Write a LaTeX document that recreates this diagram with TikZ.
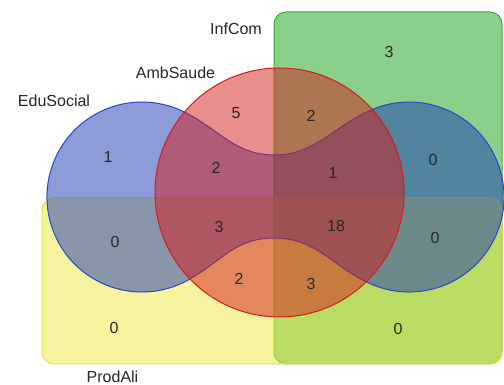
\documentclass[tikz,border=0pt]{standalone}
\usepackage{fontspec}
\setmainfont{Liberation Sans}
\begin{document}
\begin{tikzpicture}[x=1pt,y=1pt,
  lbl/.style={font=\fontsize{16}{18}\selectfont, text=black!85, inner sep=0pt},
  cnt/.style={font=\fontsize{16}{18}\selectfont, text=black!85, inner sep=0pt}]
\definecolor{cblue}{RGB}{30,56,180}
\definecolor{cbluel}{RGB}{40,70,200}
\definecolor{cred}{RGB}{212,28,28}
\definecolor{cgreen}{RGB}{22,162,22}
\definecolor{cgreenl}{RGB}{60,180,50}
\definecolor{cyellow}{RGB}{236,232,60}
\definecolor{cyellowl}{RGB}{230,226,70}
\useasboundingbox (0,0) rectangle (504,385);
% InfCom (green)
\path[fill=cgreen, fill opacity=0.5, draw=cgreenl, line width=1pt, rounded corners=12]
  (274,21) rectangle (502,373);
% ProdAli (yellow)
\path[fill=cyellow, fill opacity=0.5, draw=cyellowl, line width=1pt, rounded corners=12]
  (42,21) rectangle (502,187);
% EduSocial (blue)
\path[fill=cblue, fill opacity=0.5, draw=cbluel, line width=1pt]
  (185.1,272.6) arc[start angle=63, end angle=300, radius=95]
  .. controls (224.1,125.7) and (235,147) .. (275,147)
  .. controls (315,147) and (331.4,120.1) .. (367.4,102.6)
  arc[start angle=244, end angle=473, radius=95]
  .. controls (335.1,259.8) and (315,230) .. (275,230)
  .. controls (235,230) and (220.7,254.4) .. (185.1,272.6) -- cycle;
% AmbSaude (red)
\path[fill=cred, fill opacity=0.5, draw=cred, line width=1pt]
  (279.5,192.5) circle[radius=124.5];
% set labels
\node[lbl] (lInf) at (236,356) {InfCom};
\node[lbl] (lAmb) at (175.5,312) {AmbSaude};
\node[lbl] (lEdu) at (54,284) {EduSocial};
\node[lbl] (lProd) at (112.5,8) {ProdAli};
% counts
\node[cnt] (n1) at (108,228) {1};
\node[cnt] (n2) at (236,272) {5};
\node[cnt] (n3) at (216,217) {2};
\node[cnt] (n4) at (389,333) {3};
\node[cnt] (n5) at (311,269) {2};
\node[cnt] (n6) at (333,212) {1};
\node[cnt] (n7) at (433,225) {0};
\node[cnt] (n8) at (115,143) {0};
\node[cnt] (n9) at (219,158) {3};
\node[cnt] (n10) at (239,106) {2};
\node[cnt] (n11) at (114,57) {0};
\node[cnt] (n12) at (336,159) {18};
\node[cnt] (n13) at (311,101) {3};
\node[cnt] (n14) at (435,147) {0};
\node[cnt] (n15) at (398,56) {0};
\end{tikzpicture}
\end{document}
